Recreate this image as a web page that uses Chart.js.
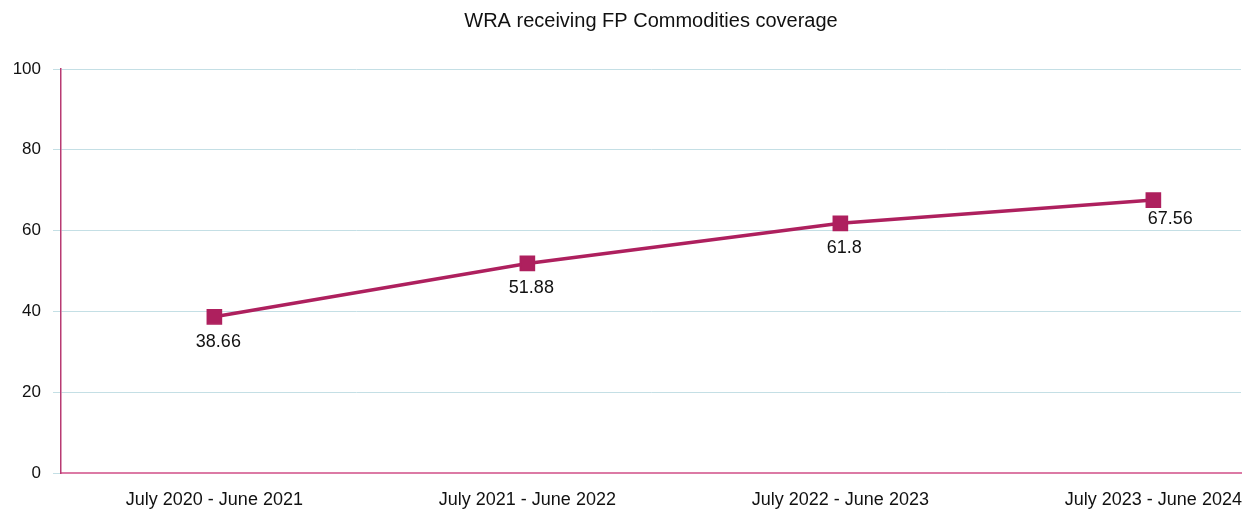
<!DOCTYPE html>
<html>
<head>
<meta charset="utf-8">
<script src="https://cdn.jsdelivr.net/npm/chart.js@4.4.1/dist/chart.umd.min.js"></script>
<style>
  html, body { margin: 0; padding: 0; background: #fff; }
  #wrap { width: 1256px; height: 515px; position: relative; }
</style>
</head>
<body>
<div id="wrap"><canvas id="chart"></canvas></div>
<script>
// Chart data
const periods = ['July 2020 - June 2021', 'July 2021 - June 2022', 'July 2022 - June 2023', 'July 2023 - June 2024'];
const coverage = [38.66, 51.88, 61.8, 67.56];
const yTicks = [0, 20, 40, 60, 80, 100];
const chartTitle = 'WRA receiving FP Commodities coverage';

const lineColor = '#ae205e';
const fontFamily = '"Liberation Sans", Arial, sans-serif';

// title centred over the plot area + the value under each marker
const valueLabels = {
    id: 'valueLabels',
    afterDraw(chart) {
        const ctx = chart.ctx;
        const area = chart.chartArea;
        ctx.save();
        ctx.fillStyle = '#111';
        ctx.textAlign = 'center';
        ctx.textBaseline = 'middle';
        ctx.font = '20px ' + fontFamily;
        ctx.fillText(chartTitle, (area.left + area.right) / 2, 21);

        ctx.font = '18px ' + fontFamily;
        const meta = chart.getDatasetMeta(0);
        meta.data.forEach((pt, i) => {
            const last = i === meta.data.length - 1;
            const dx = last ? 17 : 4;
            const dy = last ? 19 : 25;
            ctx.fillText(String(coverage[i]), pt.x + dx, pt.y + dy);
        });
        ctx.restore();
    }
};

const ctx = document.getElementById('chart').getContext('2d');
new Chart(ctx, {
    type: 'line',
    data: {
        datasets: [{
            data: coverage.map((v, i) => ({ x: i, y: v })),
            borderColor: lineColor,
            backgroundColor: lineColor,
            borderWidth: 3.5,
            pointStyle: 'rect',
            pointRadius: 10,
            pointHoverRadius: 10,
            pointBorderWidth: 1.5,
            tension: 0
        }]
    },
    options: {
        responsive: true,
        maintainAspectRatio: false,
        animation: false,
        layout: { padding: { top: 69, right: 15, bottom: 0, left: 0 } },
        plugins: {
            legend: { display: false },
            tooltip: { enabled: false },
            title: { display: false }
        },
        scales: {
            x: {
                type: 'linear',
                min: -0.49,
                max: 3.28,
                afterBuildTicks: s => { s.ticks = periods.map((p, i) => ({ value: i })); },
                afterFit: s => { s.height = 42; s.paddingRight = 0; },
                grid: { display: false, drawTicks: false },
                border: { display: true, color: '#dc7aa5', width: 2 },
                ticks: {
                    color: '#111',
                    padding: 16,
                    maxRotation: 0,
                    font: { family: fontFamily, size: 18 },
                    callback: v => periods[v]
                }
            },
            y: {
                min: 0,
                max: 100,
                afterBuildTicks: s => { s.ticks = yTicks.map(v => ({ value: v })); },
                afterFit: s => { s.width = 61; },
                grid: { color: '#c4dfe5', lineWidth: 1, tickLength: 8 },
                border: { display: true, color: '#b83a72', width: 1.5 },
                ticks: {
                    color: '#111',
                    padding: 12,
                    font: { family: fontFamily, size: 17 }
                }
            }
        }
    },
    plugins: [valueLabels]
});
</script>
</body>
</html>
